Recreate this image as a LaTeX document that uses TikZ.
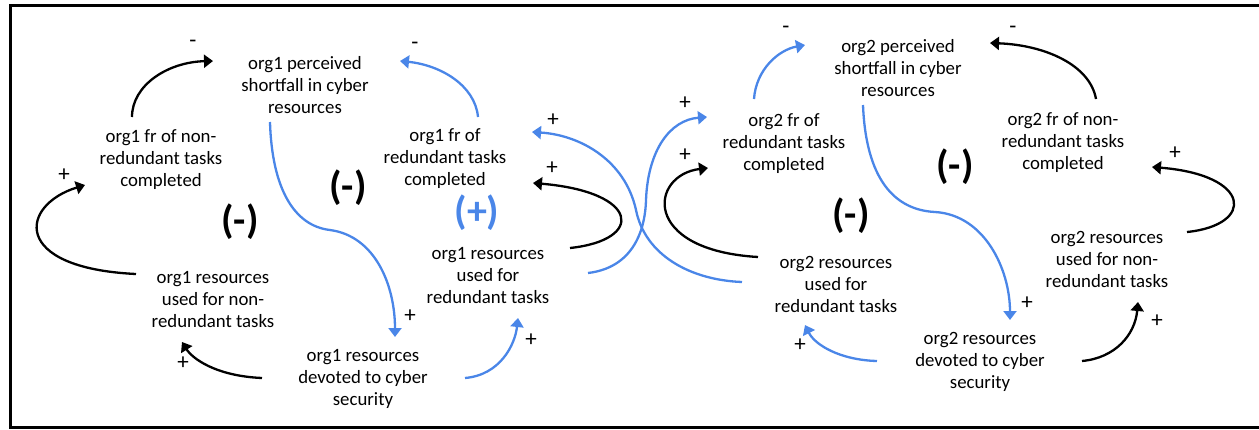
\documentclass[tikz,border=0pt]{standalone}
\usepackage{fontspec}
\setmainfont{Carlito}
\usetikzlibrary{arrows.meta}
\definecolor{linkblue}{RGB}{74,134,232}
\tikzset{
  var/.style={align=center, inner sep=0pt, font=\fontsize{18.8}{22}\selectfont},
  loopmark/.style={inner sep=0pt, font=\fontsize{40}{42}\selectfont\bfseries},
  polarity/.style={inner sep=0pt, font=\fontsize{23}{24}\selectfont},
  link/.style={line width=2.3pt, -{Triangle[length=9pt,width=13pt]}},
  bluelink/.style={link, draw=linkblue, color=linkblue},
}
\begin{document}
\begin{tikzpicture}[x=1pt,y=-1pt]
\useasboundingbox (0,0) rectangle (1259,429);
% frame
\draw[line width=3.5pt] (1262,5.7) -- (10.3,5.7) -- (10.3,427.3) -- (1262,427.3);

% organisation 1
\node[var] (A1) at (305,85)  {org1 perceived\\shortfall in cyber\\resources};
\node[var] (B1) at (161,160) {org1 fr of non-\\redundant tasks\\completed};
\node[var] (C1) at (213,300) {org1 resources\\used for non-\\redundant tasks};
\node[var] (D1) at (363,379) {org1 resources\\devoted to cyber\\security};
\node[var] (E1) at (445,159) {org1 fr of\\redundant tasks\\completed};
\node[var] (F1) at (488,276) {org1 resources\\used for\\redundant tasks};

% organisation 2
\node[var] (A2) at (898,68)  {org2 perceived\\shortfall in cyber\\resources};
\node[var] (B2) at (1063,143) {org2 fr of non-\\redundant tasks\\completed};
\node[var] (C2) at (1107,259) {org2 resources\\used for non-\\redundant tasks};
\node[var] (D2) at (980,362) {org2 resources\\devoted to cyber\\security};
\node[var] (E2) at (784,144) {org2 fr of\\redundant tasks\\completed};
\node[var] (F2) at (836,284) {org2 resources\\used for\\redundant tasks};

% loop polarities
\node[loopmark] (L1) at (240,222) {(-)};
\node[loopmark] (L2) at (348,188) {(-)};
\node[loopmark, text=linkblue] (L3) at (477,213) {(+)};
\node[loopmark] (L4) at (851,216) {(-)};
\node[loopmark] (L5) at (955,167) {(-)};

% links of organisation 1
\draw[link] ([shift={(-29,-43)}]B1.center) .. controls (132,85) and (168,62) .. ([shift={(-92,-24)}]A1.center);
\node[polarity] (p1) at (193,44) {-};
\draw[link] ([shift={(-77,-26)}]C1.center) .. controls (10,268) and (20,205) .. ([shift={(-76,25)}]B1.center);
\node[polarity] (p2) at (64,175) {+};
\draw[link] ([shift={(-101,-1)}]D1.center) .. controls (215,376) and (192,358) .. ([shift={(-31,42)}]C1.center);
\node[polarity] (p3) at (183,363) {+};
\draw[bluelink] ([shift={(-35,37)}]A1.center) .. controls (272,190) and (295,226) .. (330,230)
  .. controls (375,236) and (395,285) .. ([shift={(32,-42)}]D1.center);
\node[polarity] (p4) at (410,316) {+};
\draw[bluelink] ([shift={(33,-42)}]E1.center) .. controls (475,85) and (440,65) .. ([shift={(95,-24)}]A1.center);
\node[polarity] (p5) at (415,46) {-};
\draw[bluelink] ([shift={(102,-1)}]D1.center) .. controls (500,375) and (515,345) .. ([shift={(30,42)}]F1.center);
\node[polarity] (p6) at (531,340) {+};
\draw[link] ([shift={(82,-28)}]F1.center) .. controls (645,240) and (640,192) .. ([shift={(88,24)}]E1.center);
\node[polarity] (p7) at (552,168) {+};

% links between the organisations
\draw[bluelink] ([shift={(100,-3)}]F1.center) .. controls (630,268) and (645,235) .. (646,200)
  .. controls (648,150) and (670,120) .. ([shift={(-77,-27)}]E2.center);
\node[polarity] (p8) at (685,103) {+};
\draw[bluelink] ([shift={(-94,-2)}]F2.center) .. controls (690,280) and (645,255) .. (636,210)
  .. controls (625,160) and (580,135) .. ([shift={(87,-27)}]E1.center);
\node[polarity] (p9) at (553,120) {+};

% links of organisation 2
\draw[link] ([shift={(-78,-27)}]F2.center) .. controls (640,250) and (650,175) .. ([shift={(-76,24)}]E2.center);
\node[polarity] (p10) at (685,155) {+};
\draw[bluelink] ([shift={(-30,-45)}]E2.center) .. controls (756,70) and (778,50) .. ([shift={(-93,-23)}]A2.center);
\node[polarity] (p11) at (786,30) {-};
\draw[bluelink] ([shift={(-35,37)}]A2.center) .. controls (866,180) and (895,210) .. (935,212)
  .. controls (985,215) and (1010,270) .. ([shift={(30,-42)}]D2.center);
\node[polarity] (p12) at (1027,303) {+};
\draw[bluelink] ([shift={(-103,-1)}]D2.center) .. controls (840,360) and (815,345) .. ([shift={(-31,41)}]F2.center);
\node[polarity] (p13) at (800,345) {+};
\draw[link] ([shift={(102,-1)}]D2.center) .. controls (1115,358) and (1135,335) .. ([shift={(31,43)}]C2.center);
\node[polarity] (p14) at (1157,321) {+};
\draw[link] ([shift={(80,-27)}]C2.center) .. controls (1255,225) and (1252,175) .. ([shift={(89,24)}]B2.center);
\node[polarity] (p15) at (1175,153) {+};
\draw[link] ([shift={(33,-44)}]B2.center) .. controls (1090,65) and (1045,45) .. ([shift={(92,-25)}]A2.center);
\node[polarity] (p16) at (1013,30) {-};
\end{tikzpicture}
\end{document}
